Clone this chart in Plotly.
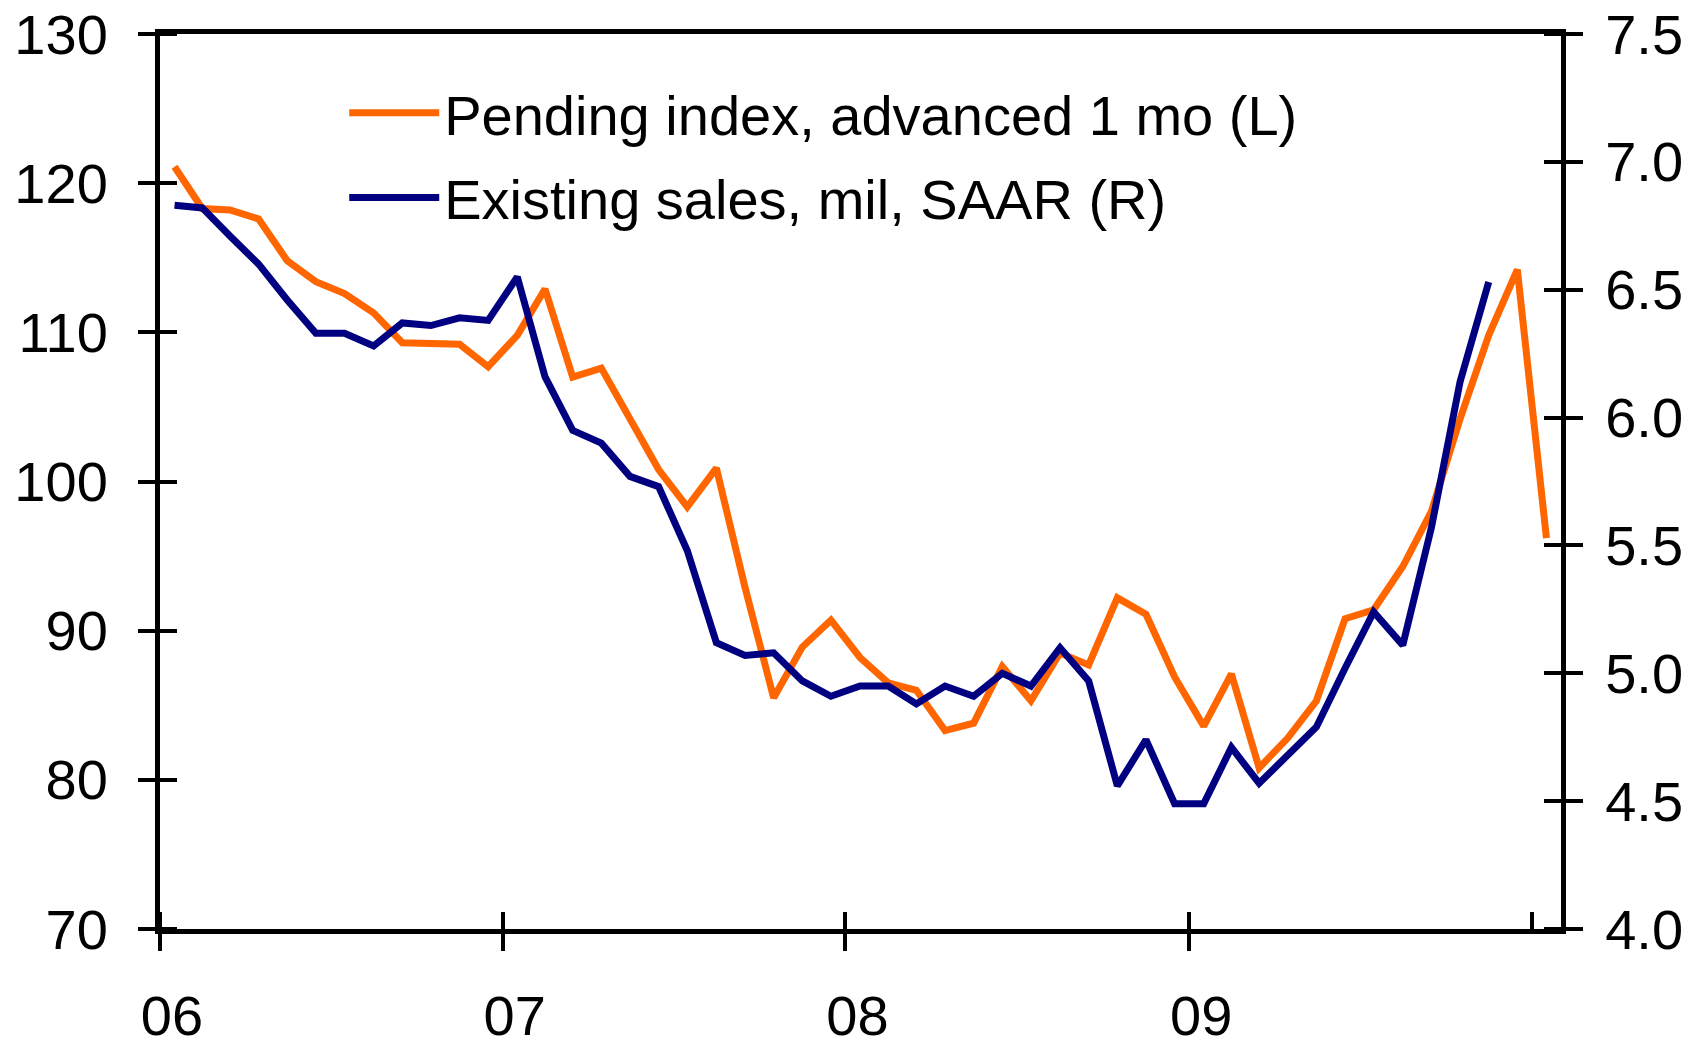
import plotly.graph_objects as go

# monthly observations, Jan 2006 .. Jan 2010 (plotted at mid-month)
months = [
    "2006-01", "2006-02", "2006-03", "2006-04", "2006-05", "2006-06",
    "2006-07", "2006-08", "2006-09", "2006-10", "2006-11", "2006-12",
    "2007-01", "2007-02", "2007-03", "2007-04", "2007-05", "2007-06",
    "2007-07", "2007-08", "2007-09", "2007-10", "2007-11", "2007-12",
    "2008-01", "2008-02", "2008-03", "2008-04", "2008-05", "2008-06",
    "2008-07", "2008-08", "2008-09", "2008-10", "2008-11", "2008-12",
    "2009-01", "2009-02", "2009-03", "2009-04", "2009-05", "2009-06",
    "2009-07", "2009-08", "2009-09", "2009-10", "2009-11", "2009-12",
    "2010-01",
]

# pending home sales index, advanced 1 month (left axis)
pending_index = [
    121.1, 118.3, 118.2, 117.6, 114.8, 113.4, 112.6, 111.3, 109.3, 109.3, 109.2, 107.7,
    109.8, 112.9, 107.0, 107.6, 104.3, 100.8, 98.3, 100.9, 92.9, 85.5, 88.9, 90.7,
    88.2, 86.5, 86.0, 83.3, 83.8, 87.6, 85.3, 88.5, 87.7, 92.2, 91.1, 86.9,
    83.6, 87.1, 80.8, 82.8, 85.3, 90.8, 91.4, 94.3, 98.0, 104.2, 109.8, 114.2,
    96.2,
]

# existing home sales, millions SAAR (right axis), through Nov 2009
existing_sales = [
    6.83, 6.82, 6.71, 6.60, 6.46, 6.33, 6.33, 6.28, 6.37, 6.36, 6.39, 6.38,
    6.55, 6.16, 5.95, 5.90, 5.77, 5.73, 5.48, 5.12, 5.07, 5.08, 4.97, 4.91,
    4.95, 4.95, 4.88, 4.95, 4.91, 5.00, 4.95, 5.10, 4.97, 4.56, 4.74, 4.49,
    4.49, 4.71, 4.57, 4.68, 4.79, 5.02, 5.24, 5.11, 5.57, 6.14, 6.53,
]

left_ticks = [70, 80, 90, 100, 110, 120, 130]
right_ticks = [4.0, 4.5, 5.0, 5.5, 6.0, 6.5, 7.0, 7.5]
year_ticks = ["2006-01-01", "2007-01-01", "2008-01-01", "2009-01-01", "2010-01-01"]
year_labels = ["06", "07", "08", "09", ""]

ORANGE = "#FF6600"
NAVY = "#000080"
FONT = "Liberation Sans, Arial, sans-serif"

fig = go.Figure()
fig.add_trace(go.Scatter(x=months, y=pending_index, xperiod="M1", xperiodalignment="middle",
                         mode="lines", line=dict(color=ORANGE, width=7),
                         name="Pending index, advanced 1 mo (L)", legendgroup="a"))
fig.add_trace(go.Scatter(x=months[:len(existing_sales)], y=existing_sales, xperiod="M1",
                         xperiodalignment="middle", mode="lines", yaxis="y2",
                         line=dict(color=NAVY, width=7),
                         name="Existing sales, mil, SAAR (R)", legendgroup="b"))

tick_font = dict(family=FONT, size=56, color="black")


def crossing_ticks(vals):
    # major ticks go outside, minor ticks at the same spots go inside -> ticks cross the axis
    return dict(ticks="outside", ticklen=17, tickwidth=4, tickcolor="black",
                minor=dict(ticks="inside", tickmode="array", tickvals=vals, ticklen=17,
                           tickwidth=4, tickcolor="black", showgrid=False),
                showgrid=False, zeroline=False, automargin=False,
                ticklabeloverflow="allow")


# page body adds an 8px offset, so the figure is 8px smaller than the window
fig.update_layout(
    width=1691, height=1039,
    margin=dict(l=152, r=138, t=26, b=118, autoexpand=False),
    paper_bgcolor="white", plot_bgcolor="white",
    font=tick_font,
    showlegend=True,
    legend=dict(x=0.1315, y=0.960, xanchor="left", yanchor="top", bgcolor="rgba(0,0,0,0)",
                font=dict(family=FONT, size=56, color="black"), tracegroupgap=9,
                itemwidth=90),
    xaxis=dict(type="date", range=["2006-01-01", "2010-02-01"], tickvals=year_ticks,
               ticktext=year_labels, showline=True, linewidth=5, linecolor="black",
               mirror=True, tickfont=tick_font, ticklabelstandoff=17, ticklabelshift=12,
               **crossing_ticks(year_ticks)),
    yaxis=dict(range=[70, 130], tickvals=left_ticks, showline=True, linewidth=5,
               linecolor="black", tickfont=tick_font, ticklabelstandoff=19,
               **crossing_ticks(left_ticks)),
    yaxis2=dict(range=[4.0, 7.5], tickvals=right_ticks, tickformat=".1f", overlaying="y",
                side="right", showline=True, linewidth=5, linecolor="black",
                tickfont=tick_font, ticklabelstandoff=11, **crossing_ticks(right_ticks)),
)

fig.write_html("out.html")
